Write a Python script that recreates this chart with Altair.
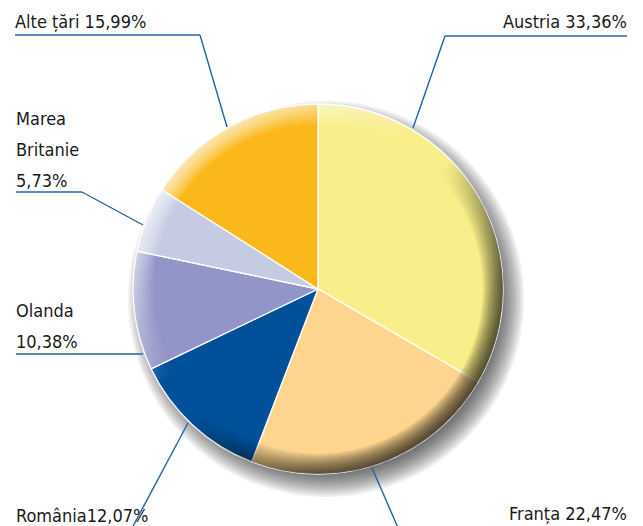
import altair as alt
import pandas as pd
import math

# ---- data ----
countries = ["Austria", "Franța", "România", "Olanda", "Marea Britanie", "Alte țări"]
shares = [33.36, 22.47, 12.07, 10.38, 5.73, 15.99]
labels = ["Austria 33,36%", "Franța 22,47%", "România12,07%", "Olanda\n10,38%",
          "Marea\nBritanie\n5,73%", "Alte țări 15,99%"]
colors = ["#F9EF8A", "#FDD58F", "#00519A", "#9295C8", "#C5CBE3", "#FBB81A"]

# ---- layout (chart pixel coordinates) ----
W, H = 627, 518
CX, CY, R = 310, 281, 185
label_x = [619, 619, 8, 8, 8, 7]
label_y = [20, 512, 514, 309, 117, 20]
label_align = ["right", "right", "left", "left", "left", "left"]
# leader line segments: (x, y, x2, y2)
leaders = [
    (619, 28, 437, 28), (437, 28, 405, 120),
    (7, 27, 192, 27), (192, 27, 219, 119),
    (8, 184, 74, 184), (74, 184, 135, 217),
    (8, 346, 135, 346),
    (180, 415, 123, 522),
    (364, 460, 391, 522),
]
FONT = "'Liberation Sans Narrow', 'DejaVu Sans Condensed', 'Arial Narrow', sans-serif"

df = pd.DataFrame({"country": countries, "share": shares, "idx": range(len(countries))})
lab = pd.DataFrame({"text": labels, "x": label_x, "y": label_y, "align": label_align})
seg = pd.DataFrame(leaders, columns=["x", "y", "x2", "y2"])
one = pd.DataFrame({"a": [0]})

xs = alt.Scale(domain=[0, W], range=[0, W], nice=False, zero=False)
ys = alt.Scale(domain=[0, H], range=[0, H], nice=False, zero=False)

layers = []
# soft drop shadow
for r in range(176, 200, 2):
    layers.append(
        alt.Chart(one).mark_arc(outerRadius=r, theta=0, theta2=2 * math.pi,
                                fill="black", opacity=0.06)
        .encode(x=alt.value(CX + 8), y=alt.value(CY + 10))
    )

pie = alt.Chart(df).mark_arc(outerRadius=R, stroke="white", strokeWidth=1.3).encode(
    theta=alt.Theta("share:Q", stack=True),
    order=alt.Order("idx:Q"),
    color=alt.Color("country:N", scale=alt.Scale(domain=countries, range=colors), legend=None),
    x=alt.value(CX), y=alt.value(CY),
)
layers.append(pie)

# bevel rings
grad = alt.LinearGradient(
    gradient="linear", x1=0.1, y1=0.1, x2=0.9, y2=0.9,
    stops=[
        alt.GradientStop(color="rgba(255,255,255,0.12)", offset=0),
        alt.GradientStop(color="rgba(255,255,255,0)", offset=0.4),
        alt.GradientStop(color="rgba(0,0,0,0)", offset=0.5),
        alt.GradientStop(color="rgba(0,0,0,0.09)", offset=0.8),
        alt.GradientStop(color="rgba(0,0,0,0.11)", offset=1),
    ],
)
for ri in range(165, 184, 2):
    layers.append(
        alt.Chart(one).mark_arc(innerRadius=ri, outerRadius=R, theta=0, theta2=2 * math.pi,
                                fill=grad)
        .encode(x=alt.value(CX), y=alt.value(CY))
    )

rules = alt.Chart(seg).mark_rule(color="#2463A8", strokeWidth=1.4).encode(
    x=alt.X("x:Q", scale=xs, axis=None), y=alt.Y("y:Q", scale=ys, axis=None),
    x2="x2:Q", y2="y2:Q",
)
layers.append(rules)

for al in ["left", "right"]:
    layers.append(
        alt.Chart(lab[lab["align"] == al]).mark_text(
            align=al, baseline="alphabetic", font=FONT,
            fontSize=18, lineBreak="\n", lineHeight=31, color="#1a1a1a",
        ).encode(
            x=alt.X("x:Q", scale=xs, axis=None), y=alt.Y("y:Q", scale=ys, axis=None),
            text="text:N",
        )
    )

chart = alt.layer(*layers).properties(
    width=W, height=H, padding=0, autosize=alt.AutoSizeParams(type="none"),
).configure_view(stroke=None)

chart.save("out.html", embed_options={"renderer": "svg", "actions": False})
